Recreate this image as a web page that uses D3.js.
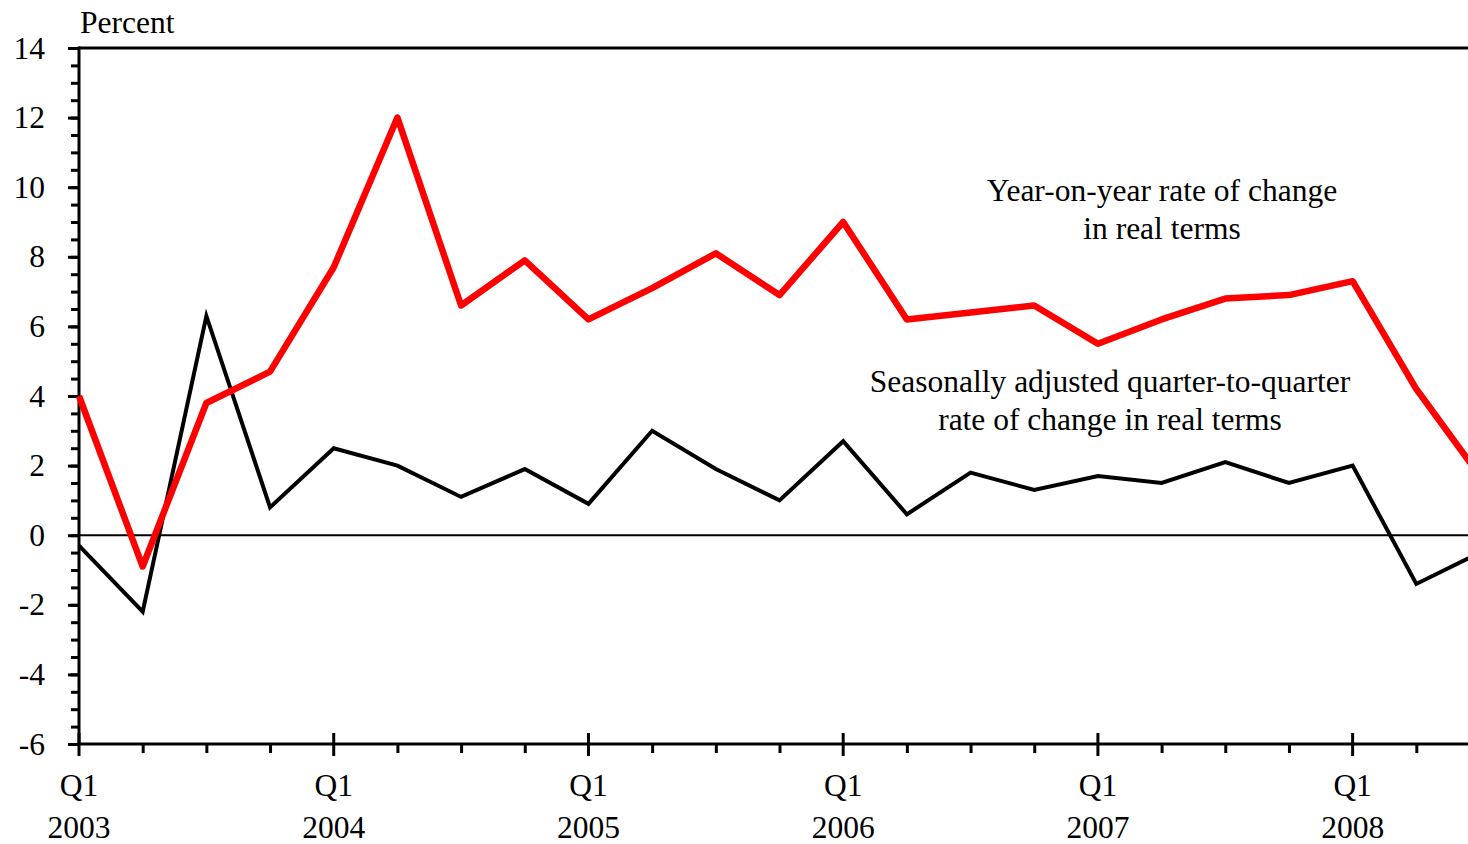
<!DOCTYPE html>
<html lang="en">
<head>
    <meta charset="UTF-8">
    <title>Real growth rates, 2003-2008</title>
    <script src="https://d3js.org/d3.v7.min.js"></script>
    <style>
        body {
            margin: 0;
            padding: 0;
            background: #fff;
        }
        svg text {
            font-family: "Liberation Serif", "Times New Roman", serif;
            font-size: 31.5px;
            fill: #000;
        }
    </style>
</head>
<body>
    <script>
        // Quarters Q1 2003 .. Q3 2008
        const quarters = ["2003Q1", "2003Q2", "2003Q3", "2003Q4",
            "2004Q1", "2004Q2", "2004Q3", "2004Q4",
            "2005Q1", "2005Q2", "2005Q3", "2005Q4",
            "2006Q1", "2006Q2", "2006Q3", "2006Q4",
            "2007Q1", "2007Q2", "2007Q3", "2007Q4",
            "2008Q1", "2008Q2", "2008Q3"];

        // Year-on-year rate of change in real terms
        const yoyValues = [4.0, -0.9, 3.8, 4.7,
            7.7, 12.0, 6.6, 7.9,
            6.2, 7.1, 8.1, 6.9,
            9.0, 6.2, 6.4, 6.6,
            5.5, 6.2, 6.8, 6.9,
            7.3, 4.2, 1.7];

        // Seasonally adjusted quarter-to-quarter rate of change in real terms
        const qoqValues = [-0.3, -2.2, 6.3, 0.8,
            2.5, 2.0, 1.1, 1.9,
            0.9, 3.0, 1.9, 1.0,
            2.7, 0.6, 1.8, 1.3,
            1.7, 1.5, 2.1, 1.5,
            2.0, -1.4, -0.5];

        const yTicks = [-6, -4, -2, 0, 2, 4, 6, 8, 10, 12, 14];
        const yearLabels = ["2003", "2004", "2005", "2006", "2007", "2008"];

        const width = 1468;
        const height = 844;
        const margin = { top: 48, left: 79, bottom: 100 };

        const svg = d3.select("body")
            .append("svg")
            .attr("width", width)
            .attr("height", height);

        // x: quarter index; the last quarter falls just past the window edge
        const x = d3.scaleLinear()
            .domain([0, quarters.length - 1])
            .range([margin.left, 1480]);

        const y = d3.scaleLinear()
            .domain([-6, 14])
            .range([height - margin.bottom, margin.top]);

        // top frame line
        svg.append("line")
            .attr("x1", x(0)).attr("x2", x(quarters.length - 1))
            .attr("y1", y(14)).attr("y2", y(14))
            .attr("stroke", "#000").attr("stroke-width", 3);

        // zero line
        svg.append("line")
            .attr("x1", x(0)).attr("x2", x(quarters.length - 1))
            .attr("y1", y(0)).attr("y2", y(0))
            .attr("stroke", "#000").attr("stroke-width", 2);

        // y axis: minor ticks every 0.5, labelled every 2
        const yAxisMinor = d3.axisLeft(y)
            .tickValues(d3.range(-6, 14.01, 0.5))
            .tickSize(8)
            .tickFormat("");
        const yAxis = d3.axisLeft(y)
            .tickValues(yTicks)
            .tickSize(11)
            .tickPadding(23)
            .tickFormat(d3.format("d"));

        const gyMinor = svg.append("g")
            .attr("transform", `translate(${margin.left},0)`)
            .call(yAxisMinor);
        const gy = svg.append("g")
            .attr("transform", `translate(${margin.left},0)`)
            .call(yAxis);
        [gyMinor, gy].forEach(g => {
            g.select(".domain").remove();
            g.selectAll(".tick line").attr("stroke", "#000").attr("stroke-width", 3);
        });
        gy.selectAll(".tick text")
            .text(d => d < 0 ? "-" + Math.abs(d) : d);

        svg.append("line")
            .attr("x1", margin.left).attr("x2", margin.left)
            .attr("y1", y(14) - 1.5).attr("y2", y(-6) + 1.5)
            .attr("stroke", "#000").attr("stroke-width", 3);

        // x axis
        const qIdx = d3.range(quarters.length);
        const xAxisMinor = d3.axisBottom(x)
            .tickValues(qIdx.filter(i => !quarters[i].endsWith("Q1")))
            .tickSize(9)
            .tickFormat("");
        const gxMinor = svg.append("g")
            .attr("transform", `translate(0,${y(-6)})`)
            .call(xAxisMinor);
        gxMinor.select(".domain").remove();
        gxMinor.selectAll(".tick line").attr("stroke", "#000").attr("stroke-width", 3);

        const majorIdx = qIdx.filter(i => quarters[i].endsWith("Q1"));
        const gxMajor = svg.append("g");
        gxMajor.selectAll("line")
            .data(majorIdx)
            .enter()
            .append("line")
            .attr("x1", d => x(d)).attr("x2", d => x(d))
            .attr("y1", y(-6) - 11).attr("y2", y(-6) + 12)
            .attr("stroke", "#000").attr("stroke-width", 3);
        gxMajor.selectAll("text.q")
            .data(majorIdx)
            .enter()
            .append("text")
            .attr("class", "q")
            .attr("x", d => x(d))
            .attr("y", y(-6) + 52)
            .attr("text-anchor", "middle")
            .text("Q1");
        gxMajor.selectAll("text.yr")
            .data(majorIdx)
            .enter()
            .append("text")
            .attr("class", "yr")
            .attr("x", d => x(d))
            .attr("y", y(-6) + 94)
            .attr("text-anchor", "middle")
            .text((d, i) => yearLabels[i]);

        svg.append("line")
            .attr("x1", margin.left - 1.5).attr("x2", x(quarters.length - 1))
            .attr("y1", y(-6)).attr("y2", y(-6))
            .attr("stroke", "#000").attr("stroke-width", 3);

        // series
        const line = d3.line()
            .x((d, i) => x(i))
            .y(d => y(d));

        svg.append("path")
            .datum(qoqValues)
            .attr("fill", "none")
            .attr("stroke", "#000")
            .attr("stroke-width", 4)
            .attr("stroke-linejoin", "miter")
            .attr("d", line);

        svg.append("path")
            .datum(yoyValues)
            .attr("fill", "none")
            .attr("stroke", "#ff0000")
            .attr("stroke-width", 6.5)
            .attr("stroke-linejoin", "round")
            .attr("d", line);

        // annotations
        svg.append("text")
            .attr("x", 80)
            .attr("y", 33)
            .text("Percent");

        const yoyLabel = svg.append("text")
            .attr("text-anchor", "middle");
        yoyLabel.append("tspan").attr("x", 1162).attr("y", 201).text("Year-on-year rate of change");
        yoyLabel.append("tspan").attr("x", 1162).attr("y", 239).text("in real terms");

        const qoqLabel = svg.append("text")
            .attr("text-anchor", "middle");
        qoqLabel.append("tspan").attr("x", 1110).attr("y", 392).text("Seasonally adjusted quarter-to-quarter");
        qoqLabel.append("tspan").attr("x", 1110).attr("y", 430).text("rate of change in real terms");
    </script>
</body>
</html>
